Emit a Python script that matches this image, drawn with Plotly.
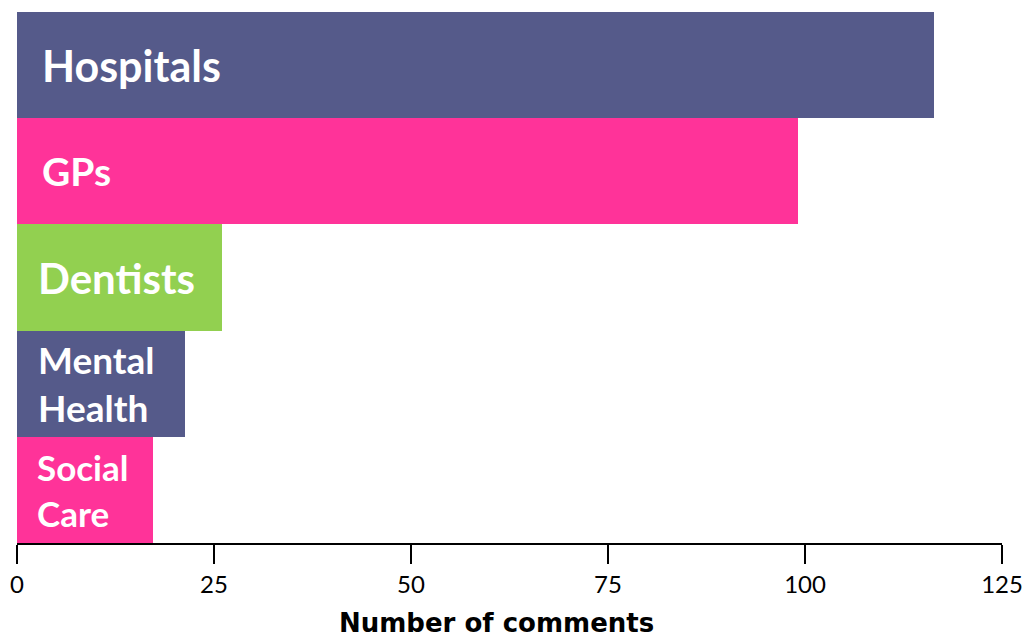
import plotly.graph_objects as go

categories = ["Hospitals", "GPs", "Dentists", "Mental Health", "Social Care"]
labels = ["Hospitals", "GPs", "Dentists", "Mental<br>Health", "Social<br>Care"]
values = [116.4, 99.1, 26, 21.3, 17.3]
colors = ["#555A8A", "#FF3399", "#92D050", "#555A8A", "#FF3399"]
label_sizes = [43, 39, 42, 37, 35]
label_shift = [23, 23, 19, 19, 18]
tick_vals = [0, 25, 50, 75, 100, 125]

fig = go.Figure()
fig.add_trace(go.Bar(
    y=categories, x=values, orientation="h",
    marker=dict(color=colors, line=dict(width=0)),
    hoverinfo="x+y",
))

for cat, lab, sz, sh in zip(categories, labels, label_sizes, label_shift):
    fig.add_annotation(
        x=0, y=cat, xref="x", yref="y", text=lab, showarrow=False,
        xanchor="left", yanchor="middle", align="left", xshift=sh,
        font=dict(family="Lato", size=sz, color="white", weight="bold"),
    )

fig.add_annotation(
    x=0.4863, y=0, xref="paper", yref="paper", text="Number of comments",
    showarrow=False, xanchor="center", yanchor="top", yshift=-63,
    font=dict(family="DejaVu Sans", size=26, color="black", weight="bold"),
)

fig.update_layout(
    width=1027, height=639,
    margin=dict(l=17, r=25, t=12, b=96, autoexpand=False),
    plot_bgcolor="white", paper_bgcolor="white",
    bargap=0, showlegend=False,
    xaxis=dict(
        range=[0, 125], tickvals=tick_vals, ticktext=[str(v) for v in tick_vals],
        showgrid=False, zeroline=False, showline=True, linecolor="black", linewidth=2,
        ticks="outside", ticklen=19, tickwidth=2, tickcolor="black",
        tickfont=dict(family="Lato", size=24, color="black"),
        ticklabelstandoff=0,
        automargin=False,
    ),
    yaxis=dict(
        range=[4.5, -0.5], showticklabels=False, showgrid=False, zeroline=False,
        showline=False, ticks="", automargin=False,
    ),
)

fig.write_html("out.html")
